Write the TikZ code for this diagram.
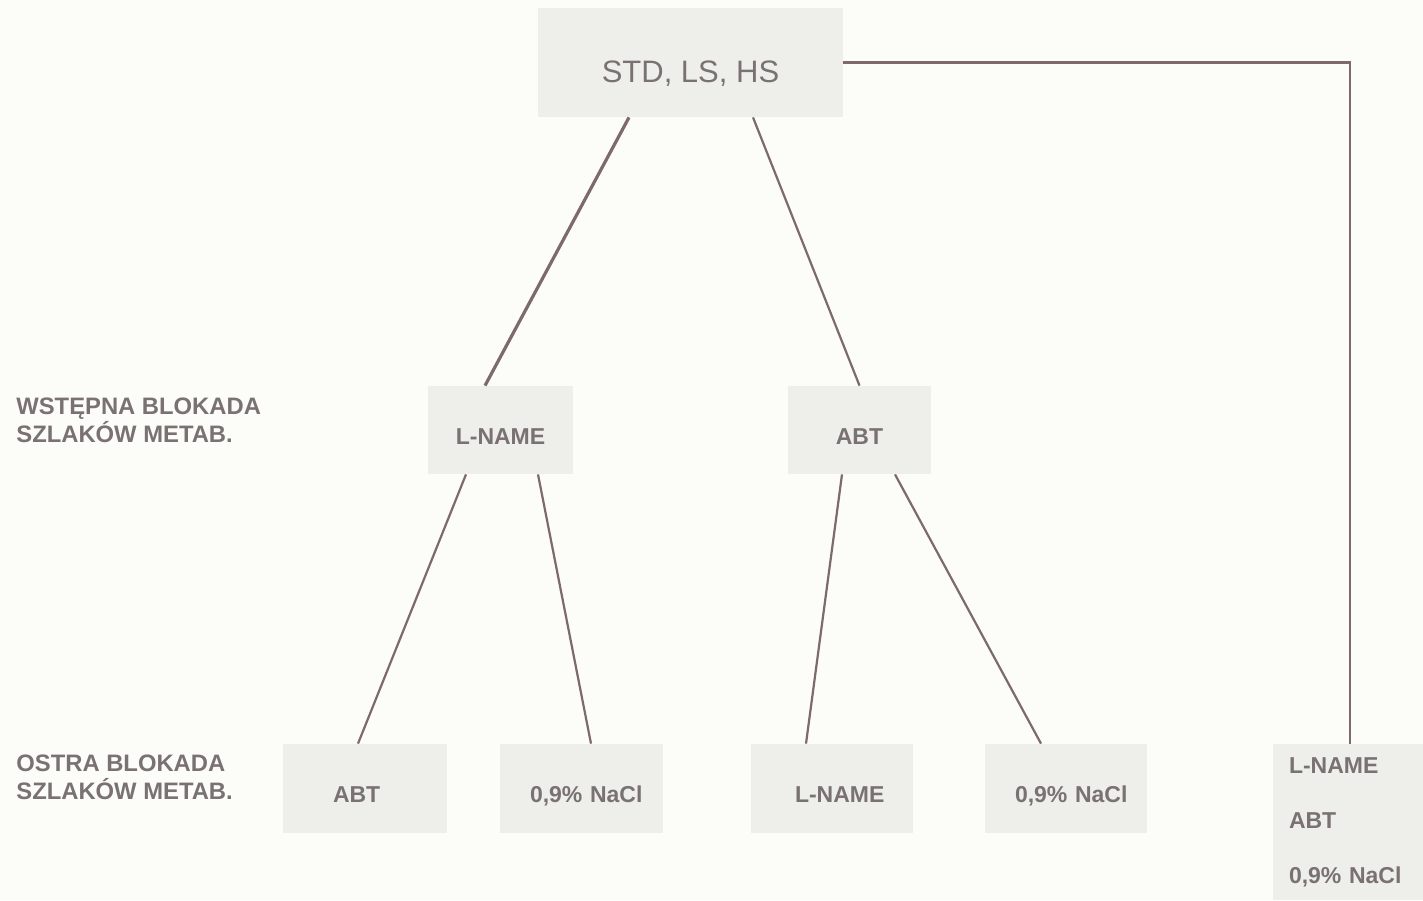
\documentclass[tikz,border=0pt]{standalone}
\usepackage{fontspec}
\setmainfont{Liberation Sans}
\usetikzlibrary{calc}
\definecolor{bgc}{RGB}{252,252,248}
\definecolor{boxc}{RGB}{238,238,234}
\definecolor{txtc}{RGB}{122,114,114}
\definecolor{linec}{RGB}{125,106,106}
\newcommand{\dn}[2]{\raisebox{-#1}[0pt][0pt]{#2}}
\begin{document}
\begin{tikzpicture}[x=0.5pt,y=-0.5pt,
  box/.style={fill=boxc,draw=none,inner sep=0pt,text=txtc,font=\fontsize{11.5}{14}\selectfont\bfseries},
  lbl/.style={anchor=north west,inner sep=0pt,text=txtc,align=left,font=\fontsize{11.9}{14}\selectfont\bfseries},
  conn/.style={draw=linec,line width=1.1pt}]
\fill[bgc] (0,0) rectangle (1423,900);
\useasboundingbox (0,0) rectangle (1423,900);
% boxes
\node[box,minimum width=152.5pt,minimum height=54.5pt,font=\fontsize{15.5}{18}\selectfont] (top) at (690.5,62.5) {\dn{9.75pt}{STD, LS, HS}};
\node[box,minimum width=72.5pt,minimum height=44pt] (m1) at (500.5,430) {\dn{7pt}{L-NAME}};
\node[box,minimum width=71.5pt,minimum height=44pt] (m2) at (859.5,430) {\dn{7pt}{ABT}};
\node[box,minimum width=82pt,minimum height=44.5pt,text width=82pt,align=left] (b1) at (365,788.5) {\hspace*{25pt}\dn{6.75pt}{ABT}};
\node[box,minimum width=81.5pt,minimum height=44.5pt,text width=81.5pt,align=left] (b2) at (581.5,788.5) {\hspace*{15pt}\dn{6.75pt}{0,9\% NaCl}};
\node[box,minimum width=81pt,minimum height=44.5pt,text width=81pt,align=left] (b3) at (832,788.5) {\hspace*{22pt}\dn{6.75pt}{L-NAME}};
\node[box,minimum width=81pt,minimum height=44.5pt,text width=81pt,align=left] (b4) at (1066,788.5) {\hspace*{15pt}\dn{6.75pt}{0,9\% NaCl}};
\node[box,minimum width=75pt,minimum height=78pt,text width=59pt,inner xsep=8pt,align=left,font=\fontsize{11.5}{27.5}\selectfont\bfseries] (r) at (1348,822) {L-NAME\\ABT\\0,9\% NaCl};
% labels
\node[lbl] (l1) at (16,397) {WSTĘPNA BLOKADA\\SZLAKÓW METAB.};
\node[lbl] (l2) at (16,754) {OSTRA BLOKADA\\SZLAKÓW METAB.};
% connectors
\draw[conn,line width=1.6pt] ($(top.south)+(-61.5,0)$) -- ($(m1.north)+(-15.5,0)$);
\draw[conn] ($(top.south)+(62.5,0)$) -- (m2.north);
\draw[conn] ($(m1.south)+(-34.5,0)$) -- ($(b1.north)+(-7,0)$);
\draw[conn] ($(m1.south)+(37.5,0)$) -- ($(b2.north)+(9.5,0)$);
\draw[conn] ($(m2.south)+(-17.5,0)$) -- ($(b3.north)+(-26,0)$);
\draw[conn] ($(m2.south)+(35.5,0)$) -- ($(b4.north)+(-25,0)$);
\draw[conn] (top.east) -| ($(r.north)+(2,0)$);
\end{tikzpicture}
\end{document}
